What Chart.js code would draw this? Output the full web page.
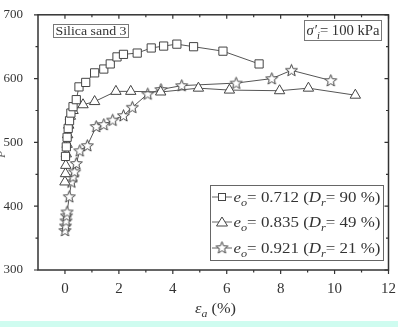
<!DOCTYPE html>
<html><head><meta charset="utf-8">
<script src="https://cdn.jsdelivr.net/npm/chart.js@4.4.1/dist/chart.umd.min.js"></script>
<style>html,body{margin:0;padding:0;background:#fff;}canvas{display:block;}</style>
</head><body>
<canvas id="c" width="398" height="327"></canvas>
<script>
// ---- data ----
const strainDense = [0.02,0.05,0.08,0.12,0.17,0.22,0.30,0.42,0.52,0.77,1.10,1.44,1.68,1.93,2.17,2.68,3.20,3.66,4.15,4.77,5.86,7.20];
const pDense      = [478,493,508,522,534,546,556,567,587,594,609,615,623,634,638,640,648,651,654,650,643,623];
const strainMedium = [0.00,0.02,0.03,0.05,0.08,0.10,0.14,0.20,0.30,0.67,1.10,1.89,2.44,3.55,4.95,6.10,7.96,9.03,10.77];
const pMedium      = [438,451,464,482,497,512,527,541,550,559,564,580,580,579,585,582,581,585,574];
const strainLoose = [0.00,0.02,0.04,0.06,0.08,0.16,0.24,0.30,0.36,0.42,0.55,0.83,1.16,1.44,1.77,2.17,2.50,3.07,3.56,4.33,6.35,7.67,8.40,9.86];
const pLoose      = [362,369,377,385,391,415,438,446,454,467,487,495,525,528,535,542,555,576,583,589,593,600,613,597];
const eValues = ['0.712','0.835','0.921'];
const drValues = ['90','49','21'];
const xTickValues = [0,2,4,6,8,10,12];
const xMinorValues = [1,3,5,7,9,11];
const yTickValues = [300,400,500,600,700];
const yMinorValues = [350,450,550,650];

const SERIF = '"Liberation Serif","Times New Roman",serif';
const INK = '#333';
const MARK = '#444';

function makeStar(){
  const c = document.createElement('canvas');
  c.width = 15; c.height = 15;
  const g = c.getContext('2d');
  g.beginPath();
  for (let i = 0; i < 10; i++) {
    const r = i % 2 === 0 ? 6.3 : 2.7;
    const a = -Math.PI/2 + i*Math.PI/5;
    const px = 7.5 + r*Math.cos(a), py = 7.9 + r*Math.sin(a);
    if (i === 0) g.moveTo(px, py); else g.lineTo(px, py);
  }
  g.closePath();
  g.fillStyle = '#fff'; g.fill();
  g.strokeStyle = MARK; g.lineWidth = 1; g.stroke();
  return c;
}
const starImg = makeStar();

function pts(xs, ys){ return xs.map((x,i)=>({x, y: ys[i]})); }

function fontFor(p, size){
  const fs = p.sub ? size*0.72 : size;
  return (p.it ? 'italic ' : '') + fs + 'px ' + SERIF;
}
// draws mixed italic/subscript text; optional target width stretches horizontally
function richText(ctx, parts, x, y, size, targetW){
  let w = 0;
  for (const p of parts) { ctx.font = fontFor(p, size); w += ctx.measureText(p.t).width; }
  const k = targetW ? targetW / w : 1;
  ctx.save();
  ctx.translate(x, y);
  ctx.scale(k, 1);
  let cx = 0;
  for (const p of parts) {
    ctx.font = fontFor(p, size);
    const dy = p.sub ? size*0.28 : 0;
    ctx.fillText(p.t, cx, dy);
    cx += ctx.measureText(p.t).width;
  }
  ctx.restore();
  return w * k;
}

const deco = {
  id: 'deco',
  beforeDraw(chart){
    const ctx = chart.ctx;
    ctx.save();
    ctx.fillStyle = '#cffcf0';
    ctx.fillRect(0, 321, chart.width, chart.height - 321);
    ctx.restore();
  },
  afterDraw(chart){
    const ctx = chart.ctx;
    const a = chart.chartArea;
    const xs = chart.scales.x, ys = chart.scales.y;
    ctx.save();
    // frame
    ctx.strokeStyle = INK; ctx.lineWidth = 1.5;
    ctx.strokeRect(a.left, a.top, a.right - a.left, a.bottom - a.top);
    ctx.lineWidth = 1.2;
    ctx.beginPath();
    for (const v of xTickValues) {
      const px = xs.getPixelForValue(v);
      ctx.moveTo(px, a.bottom); ctx.lineTo(px, a.bottom + 4);
      ctx.moveTo(px, a.top); ctx.lineTo(px, a.top + 4);
    }
    for (const v of xMinorValues) {
      const px = xs.getPixelForValue(v);
      ctx.moveTo(px, a.bottom); ctx.lineTo(px, a.bottom + 2.5);
      ctx.moveTo(px, a.top); ctx.lineTo(px, a.top + 2.5);
    }
    for (const v of yTickValues) {
      const py = ys.getPixelForValue(v);
      ctx.moveTo(a.left, py); ctx.lineTo(a.left - 4, py);
      ctx.moveTo(a.right, py); ctx.lineTo(a.right - 4, py);
    }
    for (const v of yMinorValues) {
      const py = ys.getPixelForValue(v);
      ctx.moveTo(a.left, py); ctx.lineTo(a.left - 2.5, py);
      ctx.moveTo(a.right, py); ctx.lineTo(a.right - 2.5, py);
    }
    ctx.stroke();

    ctx.fillStyle = INK;
    ctx.textBaseline = 'alphabetic';
    // Silica sand box
    richText(ctx, [{t:'Silica sand 3'}], 55.5, 35, 13, 71);
    ctx.strokeStyle = '#777'; ctx.lineWidth = 1;
    ctx.strokeRect(53.5, 24.5, 75, 13);
    // sigma box
    richText(ctx, [{t:'σ', it:true},{t:'′', it:true},{t:'i', it:true, sub:true},{t:'= 100 kPa'}], 306.5, 35, 14, 73);
    ctx.strokeRect(304.5, 20.5, 77, 20);

    // legend
    ctx.strokeStyle = '#666'; ctx.lineWidth = 1;
    ctx.strokeRect(210.5, 185.5, 173, 75);
    const rows = [197, 222, 248];
    rows.forEach((ry, i) => {
      ctx.strokeStyle = '#666'; ctx.lineWidth = 1;
      ctx.beginPath(); ctx.moveTo(212, ry); ctx.lineTo(232, ry); ctx.stroke();
      ctx.fillStyle = '#fff'; ctx.strokeStyle = MARK;
      if (i === 0) { ctx.fillRect(218, ry-4, 8, 8); ctx.strokeRect(218.5, ry-3.5, 7, 7); }
      else if (i === 1) {
        ctx.beginPath(); ctx.moveTo(222, ry-5); ctx.lineTo(227.5, ry+4); ctx.lineTo(216.5, ry+4); ctx.closePath();
        ctx.fill(); ctx.stroke();
      } else { ctx.drawImage(starImg, 214.5, ry-7.9); }
      ctx.fillStyle = INK;
      richText(ctx, [{t:'e', it:true},{t:'o', it:true, sub:true},{t:'= '+eValues[i]+' ('},{t:'D', it:true},{t:'r', it:true, sub:true},{t:'= '+drValues[i]+' %)'}], 233.5, ry + 4.5, 15.5, 147);
    });

    // axis title (x)
    ctx.fillStyle = INK;
    richText(ctx, [{t:'ε', it:true},{t:'a', it:true, sub:true},{t:' (%)'}], 195, 313, 15, 41);
    // axis title (y), mostly clipped at the page edge
    ctx.save();
    ctx.translate(2, 152);
    ctx.rotate(-Math.PI/2);
    ctx.font = 'italic 14px ' + SERIF;
    ctx.textAlign = 'center';
    ctx.fillStyle = '#666';
    ctx.fillText("p′", 0, 0);
    ctx.restore();
    ctx.restore();
  }
};

const common = { showLine: true, borderColor: '#555', borderWidth: 1, tension: 0,
  pointBorderColor: MARK, pointBackgroundColor: '#fff', pointBorderWidth: 1 };

new Chart(document.getElementById('c'), {
  type: 'scatter',
  data: { datasets: [
    Object.assign({ label: 'e0=' + eValues[0], data: pts(strainDense, pDense), pointStyle: 'rect', pointRadius: 5.8 }, common),
    Object.assign({ label: 'e0=' + eValues[1], data: pts(strainMedium, pMedium), pointStyle: 'triangle', pointRadius: 6 }, common),
    Object.assign({ label: 'e0=' + eValues[2], data: pts(strainLoose, pLoose), pointStyle: starImg, pointRadius: 7 }, common)
  ]},
  options: {
    responsive: false, animation: false, devicePixelRatio: 1,
    layout: { padding: { top: 10, right: 4, left: 0, bottom: 0 } },
    plugins: { legend: { display: false }, tooltip: { enabled: false } },
    scales: {
      x: { type: 'linear', min: -1, max: 12,
        afterBuildTicks: s => { s.ticks = xTickValues.map(v => ({value: v})); },
        ticks: { font: { family: SERIF, size: 15 }, color: INK, padding: 2, maxRotation: 0, autoSkip: false },
        grid: { display: false }, border: { display: false },
        afterFit: s => { s.height = 57; } },
      y: { min: 300, max: 700,
        afterBuildTicks: s => { s.ticks = yTickValues.map(v => ({value: v})); },
        ticks: { font: { family: SERIF, size: 13 }, color: INK, padding: 7 },
        grid: { display: false }, border: { display: false },
        afterFit: s => { s.width = 38; } }
    }
  },
  plugins: [deco]
});
</script>
</body></html>
